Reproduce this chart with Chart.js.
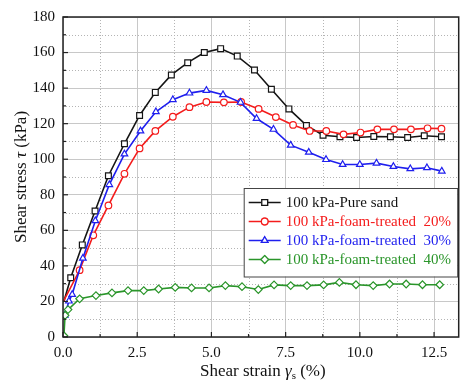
<!DOCTYPE html>
<html><head><meta charset="utf-8">
<script src="https://cdn.jsdelivr.net/npm/chart.js@4"></script>
<style>html,body{margin:0;padding:0;background:#fff}#wrap{width:464px;height:388px}</style>
</head><body><div id="wrap"><canvas id="c" width="464" height="388"></canvas></div>
<script>
const seriesNames = ['100 kPa-Pure sand','100 kPa-foam-treated  20%','100 kPa-foam-treated  30%','100 kPa-foam-treated  40%'];
const pureX = [0.03,0.26,0.65,1.08,1.53,2.07,2.58,3.11,3.65,4.2,4.76,5.31,5.87,6.45,7.02,7.61,8.2,8.76,9.33,9.89,10.47,11.03,11.61,12.17,12.75];
const pureY = [20,33.3,51.8,70.9,90.7,108.7,124.6,137.6,147.4,154.3,160,162.2,158,150.2,139.4,128.3,119,113.5,112.6,112.2,112.8,112.6,112.2,113.2,112.6];
const f20X = [0,0.56,1.02,1.53,2.07,2.58,3.11,3.7,4.26,4.83,5.42,6.0,6.59,7.17,7.75,8.31,8.87,9.45,10.02,10.59,11.15,11.72,12.28,12.75];
const f20Y = [19.6,37.6,57.2,74,91.8,106.1,115.9,123.9,129.3,132.2,132,132.2,128.3,123.7,119.3,115.9,115.9,114,115,116.8,116.8,116.8,117.4,117.2];
const f30X = [0.06,0.2,0.31,0.67,1.09,1.56,2.07,2.61,3.13,3.7,4.26,4.83,5.39,5.98,6.52,7.09,7.67,8.28,8.86,9.42,10.0,10.56,11.13,11.7,12.26,12.76];
const f30Y = [12.2,20.2,23.9,44.3,65.4,85.7,102.9,115.9,126.7,133.5,137.2,138.7,136.3,132,122.9,116.8,107.9,103.9,99.8,97,97,97.8,95.9,94.6,95.2,93.3];
const f40X = [0.03,0.07,0.17,0.56,1.11,1.65,2.19,2.72,3.22,3.78,4.33,4.92,5.47,6.03,6.58,7.11,7.67,8.22,8.78,9.31,9.87,10.45,11.0,11.56,12.11,12.69];
const f40Y = [0.7,12.2,15.4,21.5,23.3,24.8,26.1,26.1,27,27.9,27.6,27.6,28.9,28.3,26.7,29.3,28.9,28.9,29.3,30.7,29.4,28.9,29.8,29.8,29.4,29.4];
const xTickValues = [0,2.5,5,7.5,10,12.5];
const yTickValues = [0,20,40,60,80,100,120,140,160,180];
const xMinor = [1.25,3.75,6.25,8.75,11.25];
const yMinor = [10,30,50,70,90,110,130,150,170];

const colors = ['#151515','#f41c1c','#1f1fee','#2a952a'];
const styles = ['rect','circle','triangle','rectRot'];
const radii = [4.1,3.3,3.8,3.8];
const FONT = "'Liberation Serif','Times New Roman',serif";

function pts(xs, ys){ return xs.map((x,i)=>({x:x,y:ys[i]})); }
const all = [[pureX,pureY],[f20X,f20Y],[f30X,f30Y],[f40X,f40Y]];
const datasets = all.map((d,i)=>({
  label: seriesNames[i],
  data: pts(d[0],d[1]),
  showLine: true,
  borderColor: colors[i],
  backgroundColor: '#ffffff',
  borderWidth: 1.6,
  pointStyle: styles[i],
  pointRadius: (ctx)=> ((i<2 && ctx.dataIndex===0) ? 0 : radii[i]),
  pointBorderWidth: 1.2,
  pointBackgroundColor: '#ffffff',
  pointBorderColor: colors[i],
  tension: 0,
  order: 4-i
}));

function drawRich(ctx, segs, x, y){
  let w = 0;
  segs.forEach(s=>{ctx.font=s[1]; w+=ctx.measureText(s[0]).width;});
  let cx = x - w/2;
  segs.forEach(s=>{ctx.font=s[1]; ctx.fillText(s[0], cx, y + (s[2]||0)); cx += ctx.measureText(s[0]).width;});
}

const deco = {
  id:'deco',
  beforeDatasetsDraw(chart){
    const {ctx, chartArea:a, scales:{x,y}} = chart;
    ctx.save();
    ctx.setLineDash([1,2]);
    ctx.strokeStyle = '#b4b4b4';
    ctx.lineWidth = 1;
    xMinor.forEach(v=>{const p=Math.round(x.getPixelForValue(v))+0.5; ctx.beginPath(); ctx.moveTo(p,a.top); ctx.lineTo(p,a.bottom); ctx.stroke();});
    yMinor.forEach(v=>{const p=Math.round(y.getPixelForValue(v))+0.5; ctx.beginPath(); ctx.moveTo(a.left,p); ctx.lineTo(a.right,p); ctx.stroke();});
    ctx.restore();
  },
  afterDraw(chart){
    const {ctx, chartArea:a, scales:{x,y}} = chart;
    ctx.save();
    ctx.strokeStyle = '#222';
    ctx.lineWidth = 1.5;
    ctx.strokeRect(a.left, a.top, a.right-a.left, a.bottom-a.top);
    ctx.lineWidth = 1.2;
    xTickValues.forEach(v=>{const p=x.getPixelForValue(v); ctx.beginPath(); ctx.moveTo(p,a.bottom); ctx.lineTo(p,a.bottom-5); ctx.stroke();});
    xMinor.forEach(v=>{const p=x.getPixelForValue(v); ctx.beginPath(); ctx.moveTo(p,a.bottom); ctx.lineTo(p,a.bottom-3); ctx.stroke();});
    yTickValues.forEach(v=>{const p=y.getPixelForValue(v); ctx.beginPath(); ctx.moveTo(a.left,p); ctx.lineTo(a.left+5,p); ctx.stroke();});
    yMinor.forEach(v=>{const p=y.getPixelForValue(v); ctx.beginPath(); ctx.moveTo(a.left,p); ctx.lineTo(a.left+3,p); ctx.stroke();});
    ctx.fillStyle = '#111';
    ctx.textBaseline = 'alphabetic';
    ctx.textAlign = 'left';
    drawRich(ctx, [['Shear strain ', '17px '+FONT],['γ','italic 17px '+FONT],['s','11px '+FONT,3],[' (%)','17px '+FONT]], (a.left+a.right)/2+2, 376);
    ctx.save();
    ctx.translate(26, (a.top+a.bottom)/2);
    ctx.rotate(-Math.PI/2);
    drawRich(ctx, [['Shear stress ', '17px '+FONT],['τ','italic 17px '+FONT],[' (kPa)','17px '+FONT]], 0, 0);
    ctx.restore();
    const lx = a.right-215, ly = 188, lw = 213.5, lh = 88.5;
    ctx.fillStyle = '#fff';
    ctx.fillRect(lx, ly, lw, lh);
    ctx.strokeStyle = '#444'; ctx.lineWidth = 1;
    ctx.strokeRect(lx+0.5, ly+0.5, lw, lh);
    ctx.font = '15px '+FONT;
    ctx.textBaseline = 'middle';
    seriesNames.forEach((n,i)=>{
      const cy = ly + 14.5 + i*19;
      ctx.strokeStyle = colors[i]; ctx.lineWidth = 1.6;
      ctx.beginPath(); ctx.moveTo(lx+5, cy); ctx.lineTo(lx+37, cy); ctx.stroke();
      ctx.fillStyle = '#fff'; ctx.lineWidth = 1.2;
      Chart.helpers.drawPoint(ctx, {pointStyle: styles[i], radius: radii[i], borderWidth: 1.2}, lx+21, cy);
      ctx.fill();
      ctx.beginPath();
      Chart.helpers.drawPoint(ctx, {pointStyle: styles[i], radius: radii[i], borderWidth: 1.2}, lx+21, cy);
      ctx.fillStyle = colors[i];
      ctx.fillText(n, lx+42, cy+1);
    });
    ctx.restore();
  }
};

new Chart(document.getElementById('c'), {
  type: 'scatter',
  data: { datasets },
  options: {
    responsive: false,
    animation: false,
    layout: { padding: { top: 13, right: 1, left: 0, bottom: 0 } },
    plugins: { legend: { display: false }, tooltip: { enabled: false } },
    scales: {
      x: {
        type: 'linear', min: 0, max: 13.33,
        afterBuildTicks: (s)=>{ s.ticks = xTickValues.map(v=>({value:v})); },
        afterFit: (s)=>{ s.height = 51; },
        ticks: { font: { family: FONT, size: 15 }, color: '#111', padding: 7, maxRotation: 0,
                 callback: (v)=> Number(v).toFixed(1) },
        grid: { color: '#c8c8c8', lineWidth: 1, drawTicks: false },
        border: { display: false }
      },
      y: {
        type: 'linear', min: 0, max: 180,
        afterBuildTicks: (s)=>{ s.ticks = yTickValues.map(v=>({value:v})); },
        afterFit: (s)=>{ s.width = 63; },
        ticks: { font: { family: FONT, size: 15 }, color: '#111', padding: 8,
                 callback: (v)=> String(v) },
        grid: { color: '#c8c8c8', lineWidth: 1, drawTicks: false },
        border: { display: false }
      }
    }
  },
  plugins: [deco]
});
</script>
</body></html>
